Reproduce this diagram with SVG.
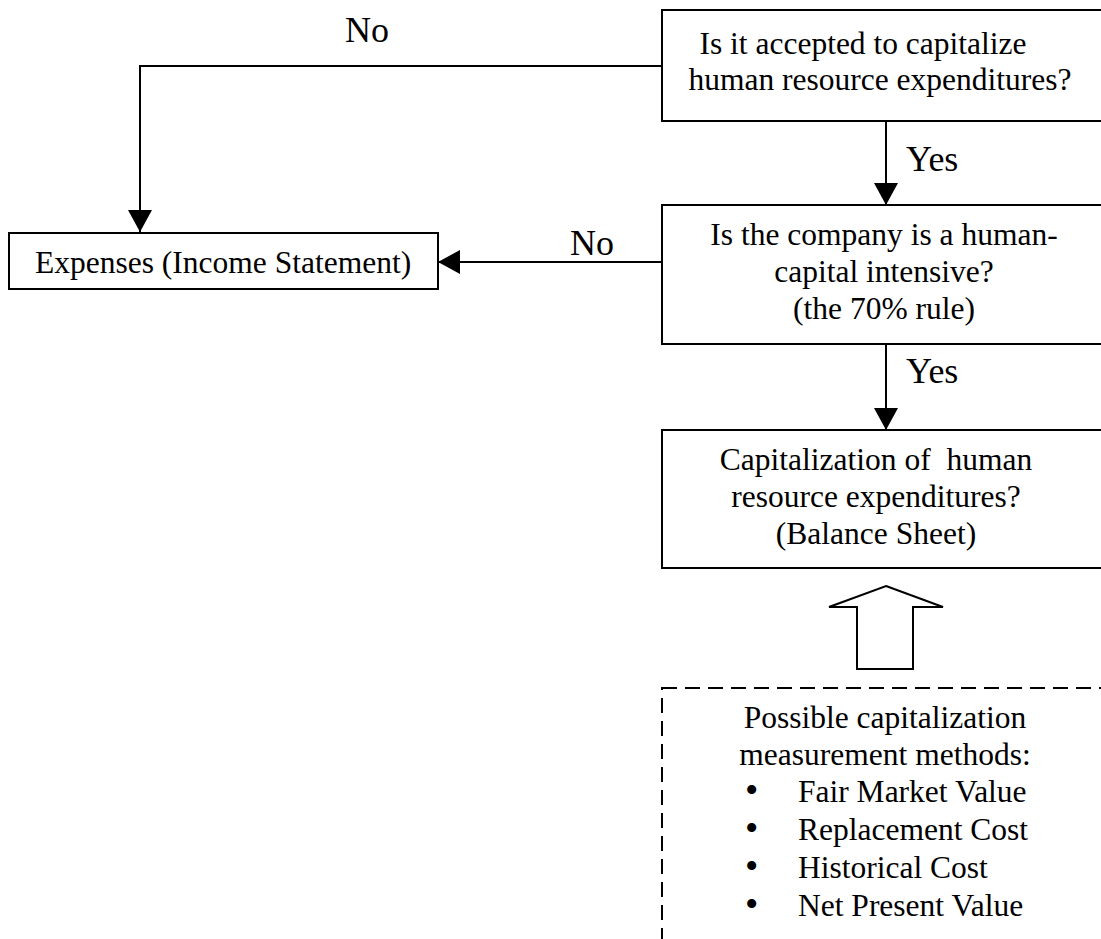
<svg xmlns="http://www.w3.org/2000/svg" width="1101" height="939" viewBox="0 0 1101 939">
  <style>
    .box { fill: #ffffff; stroke: #000000; stroke-width: 2; }
    .dash { fill: #ffffff; stroke: #000000; stroke-width: 2; stroke-dasharray: 15 8; }
    .conn { fill: none; stroke: #000000; stroke-width: 2; }
    text { font-family: "Liberation Serif", "Times New Roman", serif; fill: #000000; }
    .t { font-size: 31.5px; }
    .mid { text-anchor: middle; }
    .lbl { font-size: 36px; }
    .bul { font-size: 38px; }
  </style>
  <defs>
    <marker id="ah" markerUnits="userSpaceOnUse" markerWidth="22" markerHeight="24" refX="22" refY="12" orient="auto" viewBox="0 0 22 24">
      <path d="M0,0 L22,12 L0,24 Z" fill="#000000"/>
    </marker>
  </defs>
  <rect width="1101" height="939" fill="#ffffff"/>

  <g id="connectors">
    <path class="conn" d="M662,66 H140 V232" marker-end="url(#ah)"/>
    <path class="conn" d="M886,121 V205" marker-end="url(#ah)"/>
    <path class="conn" d="M662,262 H438" marker-end="url(#ah)"/>
    <path class="conn" d="M886,344 V430" marker-end="url(#ah)"/>
    <polygon class="conn" points="886,586 943,607 913,607 913,669 857,669 857,607 829,607"/>
    <text class="lbl" x="345" y="42">No</text>
    <text class="lbl" x="570" y="255">No</text>
    <text class="lbl" x="906" y="171">Yes</text>
    <text class="lbl" x="906" y="383">Yes</text>
  </g>

  <g id="q1">
    <rect class="box" x="662" y="10" width="460" height="111"/>
    <text class="t mid" x="863" y="54">Is it accepted to capitalize</text>
    <text class="t mid" x="880" y="90">human resource expenditures?</text>
  </g>

  <g id="q2">
    <rect class="box" x="662" y="205" width="460" height="139"/>
    <text class="t mid" x="884" y="245">Is the company is a human-</text>
    <text class="t mid" x="884" y="282">capital intensive?</text>
    <text class="t mid" x="884" y="319">(the 70% rule)</text>
  </g>

  <g id="expenses">
    <rect class="box" x="9" y="233" width="429" height="56"/>
    <text class="t" x="35" y="273">Expenses (Income Statement)</text>
  </g>

  <g id="capitalization">
    <rect class="box" x="662" y="430" width="460" height="138"/>
    <text class="t mid" x="876" y="470" xml:space="preserve">Capitalization of  human</text>
    <text class="t mid" x="876" y="507">resource expenditures?</text>
    <text class="t mid" x="876" y="544">(Balance Sheet)</text>
  </g>

  <g id="methods">
    <rect class="dash" x="662" y="688" width="460" height="300"/>
    <text class="t mid" x="885" y="728">Possible capitalization</text>
    <text class="t mid" x="885" y="765">measurement methods:</text>
    <text class="bul" x="745" y="803">•</text>
    <text class="t" x="798" y="802">Fair Market Value</text>
    <text class="bul" x="745" y="841">•</text>
    <text class="t" x="798" y="840">Replacement Cost</text>
    <text class="bul" x="745" y="879">•</text>
    <text class="t" x="798" y="878">Historical Cost</text>
    <text class="bul" x="745" y="917">•</text>
    <text class="t" x="798" y="916">Net Present Value</text>
  </g>
</svg>
